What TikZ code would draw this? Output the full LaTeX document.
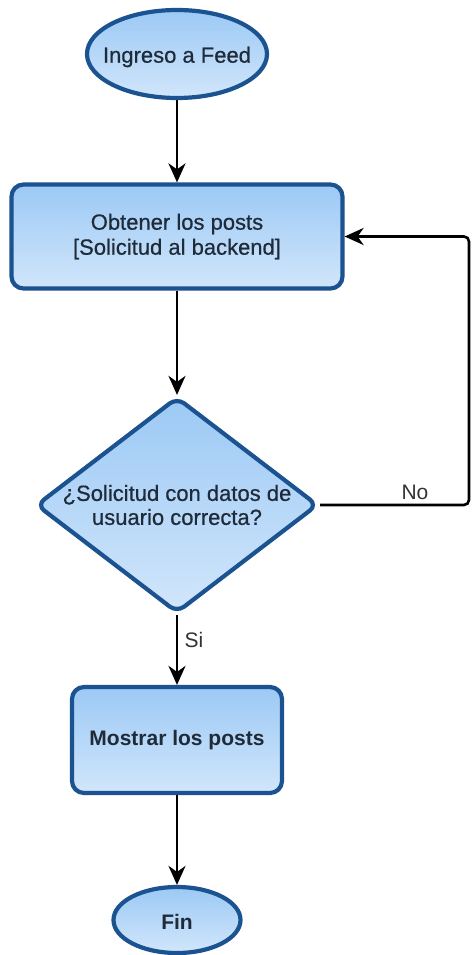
\documentclass[tikz,border=0pt]{standalone}
\usepackage{fontspec}
\setmainfont{Liberation Sans}
\newfontfamily\medfont[FakeBold=0.6]{Liberation Sans}
\usetikzlibrary{shapes.geometric,arrows.meta}

\definecolor{edgeblue}{HTML}{1B5290}
\definecolor{filltop}{HTML}{9CC9F5}
\definecolor{fillbot}{HTML}{D1E6FB}
\definecolor{inktext}{HTML}{1F2B38}
\definecolor{labelgray}{HTML}{333333}

\tikzset{
  flowshape/.style={draw=edgeblue, line width=4.2pt, top color=filltop, bottom color=fillbot,
    text=inktext, inner sep=0pt, align=center},
  regtext/.style={font=\fontsize{22}{25}\selectfont\medfont},
  boldtext/.style={font=\fontsize{21}{25}\selectfont\bfseries},
  terminal/.style={flowshape, ellipse},
  process/.style={flowshape, rectangle, rounded corners=12pt},
  decision/.style={flowshape, diamond, rounded corners=9pt},
  inlabel/.style={text=inktext, align=center, inner sep=0pt},
  flow/.style={line width=2.6pt, -{Stealth[length=19pt,width=17pt,inset=6pt]}},
  edgelabel/.style={text=labelgray, font=\fontsize{21}{24}\selectfont, inner sep=0pt}
}

\begin{document}
\begin{tikzpicture}[x=1pt, y=-1pt]
  \useasboundingbox (0,0) rectangle (472,955);

  % Flow steps (ellipse and diamond sizes are fixed; their text is laid over the centre)
  \node[terminal, minimum width=180pt, minimum height=88pt,
    label={[inlabel, regtext, yshift=-3pt]center:Ingreso a Feed}] (ingreso) at (177,54) {};
  \node[process, regtext, minimum width=331pt, minimum height=104pt] (obtener) at (177,236.5)
    {\rule{0pt}{6pt}Obtener los posts\\{}[Solicitud al backend]};
  \node[decision, minimum width=282pt, minimum height=216pt,
    label={[inlabel, regtext, font=\fontsize{22}{24}\selectfont\medfont]center:{¿Solicitud con datos de\\usuario correcta?}}]
    (check) at (177,505) {};
  \node[process, boldtext, minimum width=210pt, minimum height=106pt]
    (mostrar) at (177,740) {Mostrar los posts};
  \node[terminal, minimum width=127pt, minimum height=66pt,
    label={[inlabel, boldtext, yshift=-2pt]center:Fin}] (fin) at (177,920) {};

  % Return path on the right
  \coordinate (loopR) at (469,505);

  % Connectors
  \draw[flow] (ingreso.south) -- (obtener.north);
  \draw[flow] (obtener.south) -- (check.north);
  \draw[flow] (check.south) -- (mostrar.north);
  \draw[flow] (mostrar.south) -- (fin.north);
  \draw[flow, rounded corners=5pt] (check.east) -- (loopR) |- (obtener.east);

  % Branch labels
  \node[edgelabel] (nolabel) at (415,492) {No};
  \node[edgelabel] (silabel) at (194,640) {Si};
\end{tikzpicture}
\end{document}
